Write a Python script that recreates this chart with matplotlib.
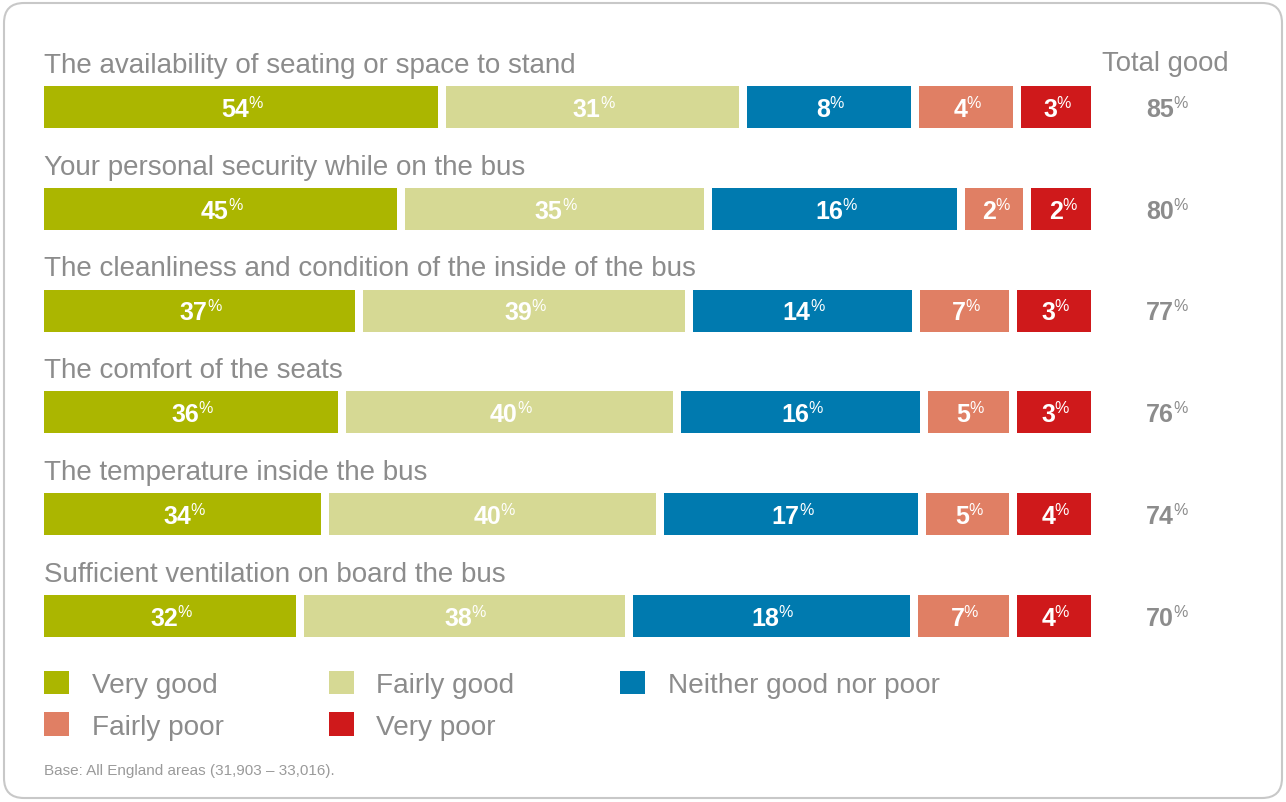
import matplotlib.pyplot as plt
from matplotlib.patches import Patch, FancyBboxPatch
import numpy as np

plt.rcParams['font.family'] = ['Liberation Sans', 'DejaVu Sans']

questions = [
    "The availability of seating or space to stand",
    "Your personal security while on the bus",
    "The cleanliness and condition of the inside of the bus",
    "The comfort of the seats",
    "The temperature inside the bus",
    "Sufficient ventilation on board the bus",
]
categories = ["Very good", "Fairly good", "Neither good nor poor", "Fairly poor", "Very poor"]

# percentages printed on the bars
very_good = [54, 45, 37, 36, 34, 32]
fairly_good = [31, 35, 39, 40, 40, 38]
neither = [8, 16, 14, 16, 17, 18]
fairly_poor = [4, 2, 7, 5, 5, 7]
very_poor = [3, 2, 3, 3, 4, 4]
total_good = [85, 80, 77, 76, 74, 70]

# the source does not draw segments in proportion to the printed numbers;
# these are the segment lengths as they appear (share of the full bar)
seg_very_good = [38.1, 34.2, 30.2, 28.6, 27.0, 24.6]
seg_fairly_good = [28.5, 29.1, 31.3, 31.8, 31.8, 31.2]
seg_neither = [16.3, 24.0, 21.5, 23.4, 24.8, 27.0]
seg_fairly_poor = [9.7, 6.3, 9.2, 8.4, 8.6, 9.4]
seg_very_poor = [7.4, 6.4, 7.8, 7.8, 7.8, 7.8]

colors = ["#abb600", "#d6d994", "#007aaf", "#e07f64", "#cf191b"]
grey = "#8c8c8c"

values = [very_good, fairly_good, neither, fairly_poor, very_poor]
segs = [seg_very_good, seg_fairly_good, seg_neither, seg_fairly_poor, seg_very_poor]

fig = plt.figure(figsize=(12.86, 8.03), dpi=100)
ax = fig.add_axes([44 / 1286, 1 - 668 / 803, 1055 / 1286, 610.9 / 803])
ax.set_xlim(0, 100)
ax.set_ylim(5.5, -0.5)
ax.axis("off")

gap = 0.76
y = np.arange(len(questions))
left = np.zeros(len(questions))
for k in range(5):
    w = np.array(segs[k])
    ax.barh(y, w - gap, left=left, height=0.413, color=colors[k], align="center")
    for i in range(len(questions)):
        t = ax.annotate(str(values[k][i]), xy=(left[i] + (w[i] - gap) / 2, y[i]),
                        xytext=(-4, 0.5), textcoords="offset points",
                        ha="center", va="center_baseline", color="white",
                        fontsize=18, fontweight="bold")
        ax.annotate("%", xy=(1, 1), xycoords=t, xytext=(-0.5, 1.5), textcoords="offset points",
                    ha="left", va="top", color="white", fontsize=11.5)
    left += w

for i, q in enumerate(questions):
    ax.text(0, y[i] - 0.415, q, ha="left", va="center", color=grey, fontsize=20, clip_on=False)
    t = ax.annotate(str(total_good[i]), xy=(106.3, y[i]), xytext=(-4, 0.5), textcoords="offset points",
                    ha="center", va="center_baseline", color=grey,
                    fontsize=18, fontweight="bold", annotation_clip=False)
    ax.annotate("%", xy=(1, 1), xycoords=t, xytext=(-0.5, 1.5), textcoords="offset points",
                ha="left", va="top", color=grey, fontsize=11.5)

ax.text(106.3, -0.43, "Total good", ha="center", va="center", color=grey, fontsize=19.8, clip_on=False)

# legend, filled column-wise: row 1 = VG, FG, N ; row 2 = FP, VP
order = [0, 3, 1, 4, 2]
handles = [Patch(facecolor=colors[k], edgecolor="none", label=categories[k]) for k in order]
fig.legend(handles=handles, ncol=3, loc="upper left", frameon=False,
           bbox_to_anchor=(44 / 1286, 1 - 672 / 803), bbox_transform=fig.transFigure,
           fontsize=20.2, labelcolor=grey, handlelength=0.9, handleheight=0.9,
           handletextpad=0.8, columnspacing=3.75, labelspacing=0.5, borderpad=0,
           borderaxespad=0)

fig.text(44 / 1286, 1 - 771 / 803, "Base: All England areas (31,903 \u2013 33,016).",
         ha="left", va="center", color="#9a9a9a", fontsize=11)

border = FancyBboxPatch((0.04, 0.04), 12.78, 7.95, boxstyle="round,pad=0,rounding_size=0.2",
                        transform=fig.dpi_scale_trans, facecolor="none",
                        edgecolor="#c8c8c8", linewidth=1.5)
fig.patches.append(border)

fig.savefig("out.png", dpi=100)
